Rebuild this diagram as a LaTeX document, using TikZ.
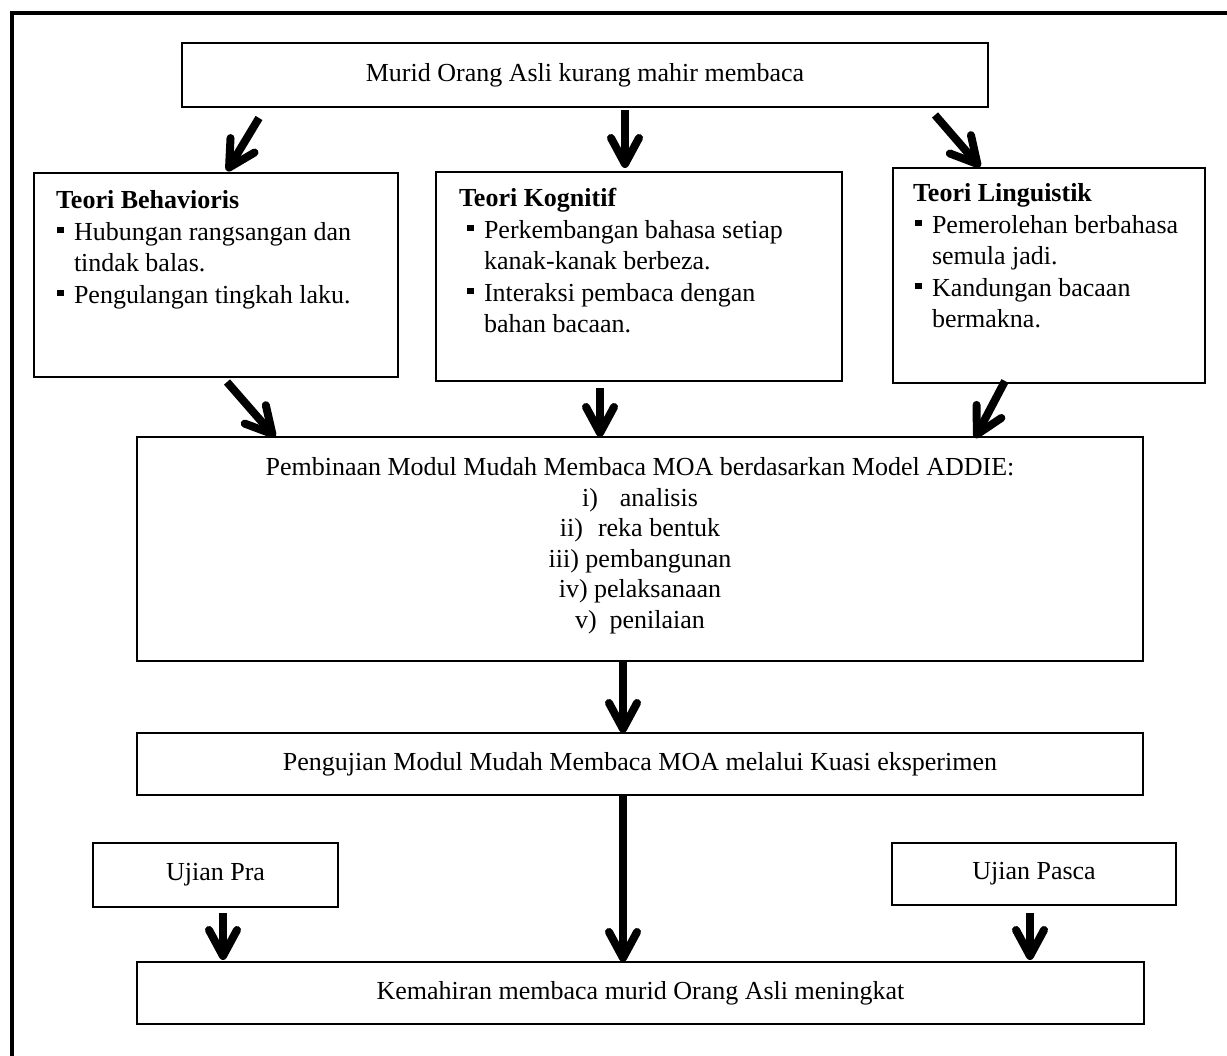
\documentclass[tikz,border=0pt]{standalone}
\usepackage{fontspec}
\setmainfont{Liberation Serif}
\usetikzlibrary{arrows.meta,positioning,calc}
\tikzset{%
kotak/.style={draw, line width=2pt, inner sep=0pt, outer sep=0pt, anchor=north west},
panah/.style={line width=8pt, -{Straight Barb[round,length=26pt,width=28pt]}},
bingkai/.style={line width=4.5pt}
}
\newcommand{\butir}{\makebox[17pt][l]{\raisebox{7pt}{\rule{6.5pt}{6.5pt}}}}

\begin{document}
\begin{tikzpicture}[x=1pt,y=-1pt,font=\fontsize{26}{31.5}\selectfont]
	\useasboundingbox (0,0) rectangle (1227,1056);
	\draw[bingkai] (1227,13) -- (12,13) -- (12,1056);
	
	\node[kotak, minimum width=806pt, minimum height=64pt] (murid) at (182,43) {Murid Orang Asli kurang mahir membaca};
	
	\node[kotak] (behav) at (34,173) {\begin{minipage}[c][204pt][t]{364pt}
		\hspace*{22pt}\rule{0pt}{36pt}\textbf{Teori Behavioris}\\
		\hspace*{23pt}\butir Hubungan rangsangan dan\\
		\hspace*{40pt}tindak balas.\\
		\hspace*{23pt}\butir Pengulangan tingkah laku.
	\end{minipage}};
	\node[kotak] (kognitif) at (436,172) {\begin{minipage}[c][209pt][t]{406pt}
		\hspace*{23pt}\rule{0pt}{35pt}\textbf{Teori Kognitif}\\
		\hspace*{31pt}\butir Perkembangan bahasa setiap\\
		\hspace*{48pt}kanak-kanak berbeza.\\
		\hspace*{31pt}\butir Interaksi pembaca dengan\\
		\hspace*{48pt}bahan bacaan.
	\end{minipage}};
	\node[kotak] (linguistik) at (893,168) {\begin{minipage}[c][215pt][t]{312pt}
		\hspace*{20pt}\rule{0pt}{34pt}\textbf{Teori Linguistik}\\
		\hspace*{22pt}\butir Pemerolehan berbahasa\\
		\hspace*{39pt}semula jadi.\\
		\hspace*{22pt}\butir Kandungan bacaan\\
		\hspace*{39pt}bermakna.
	\end{minipage}};
	
	\node[kotak] (bina) at (137,437) {\begin{minipage}[c][224pt][t]{1006pt}
		\fontsize{26}{30.5}\selectfont\centering
		\rule{0pt}{38.5pt}Pembinaan Modul Mudah Membaca MOA berdasarkan Model ADDIE:\\
		i)\hspace{22pt}analisis\\
		ii)\hspace{15pt}reka bentuk\\
		iii) pembangunan\\
		iv) pelaksanaan\\
		v)\hspace{13pt}penilaian
	\end{minipage}};
	
	\node[kotak, minimum width=1006pt, minimum height=62pt] (uji) at (137,733) {Pengujian Modul Mudah Membaca MOA melalui Kuasi eksperimen};
	\node[kotak, minimum width=245pt, minimum height=64pt] (pra) at (93,843) {Ujian Pra};
	\node[kotak, minimum width=284pt, minimum height=62pt] (pasca) at (892,843) {Ujian Pasca};
	\node[kotak, minimum width=1007pt, minimum height=62pt] (mahir) at (137,962) {Kemahiran membaca murid Orang Asli meningkat};
	
	% anak panah
	\draw[panah] ($(murid.south west)+(77,11)$) -- ($(behav.north west)+(193,-2)$);
	\draw[panah] ($(murid.south west)+(443,3)$) -- ($(kognitif.north west)+(189,-4)$);
	\draw[panah] ($(murid.south west)+(753,8)$) -- ($(linguistik.north west)+(87,-1)$);
	
	\draw[panah] ($(behav.south west)+(193,5)$) -- ($(bina.north west)+(138,0)$);
	\draw[panah] ($(kognitif.south west)+(164,7)$) -- ($(bina.north west)+(463,0)$);
	\draw[panah] ($(linguistik.south west)+(112,-2)$) -- ($(bina.north west)+(838,1)$);
	
	\draw[panah] ($(bina.south west)+(486,0)$) -- ($(uji.north west)+(486,0)$);
	\draw[panah] ($(uji.south west)+(486,0)$) -- ($(mahir.north west)+(486,0)$);
	\draw[panah] ($(pra.south west)+(130,6)$) -- ($(mahir.north west)+(86,-2)$);
	\draw[panah] ($(pasca.south west)+(138,8)$) -- ($(mahir.north west)+(893,-2)$);
\end{tikzpicture}
\end{document}
